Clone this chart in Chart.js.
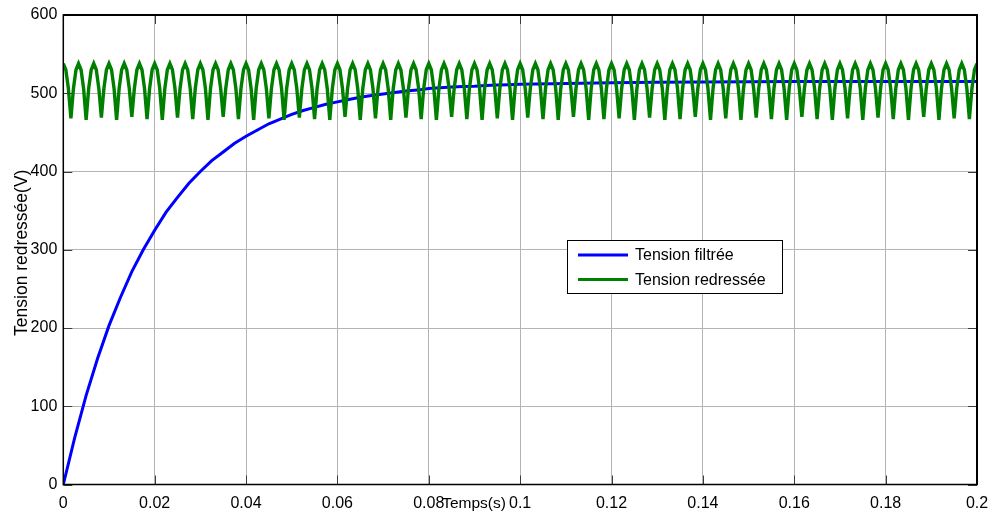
<!DOCTYPE html>
<html>
<head>
<meta charset="utf-8">
<script src="https://cdn.jsdelivr.net/npm/chart.js@4.4.0/dist/chart.umd.min.js"></script>
<style>
  html, body { margin: 0; padding: 0; background: #fff; }
  canvas { display: block; }
</style>
</head>
<body>
<canvas id="tensionChart" width="991" height="513"></canvas>
<script>
// axis ticks
var xTicks = [0, 0.02, 0.04, 0.06, 0.08, 0.1, 0.12, 0.14, 0.16, 0.18, 0.2];
var xTickLabels = ['0', '0.02', '0.04', '0.06', '0.08', '0.1', '0.12', '0.14', '0.16', '0.18', '0.2'];
var yTicks = [0, 100, 200, 300, 400, 500, 600];
var yTickLabels = ['0', '100', '200', '300', '400', '500', '600'];

var seriesNames = ['Tension filtrée', 'Tension redressée'];
var xTitle = 'Temps(s)';
var yTitle = 'Tension redressée(V)';

// filtered voltage (blue)
var filteredTime = [0, 0.0025, 0.005, 0.0075, 0.01, 0.0125, 0.015, 0.0175, 0.02, 0.0225,
    0.025, 0.0275, 0.03, 0.0325, 0.035, 0.0375, 0.04, 0.0425, 0.045, 0.0475,
    0.05, 0.0525, 0.055, 0.0575, 0.06, 0.0625, 0.065, 0.0675, 0.07, 0.0725,
    0.075, 0.0775, 0.08, 0.0825, 0.085, 0.0875, 0.09, 0.0925, 0.095, 0.0975,
    0.1, 0.11, 0.12, 0.13, 0.14, 0.16, 0.18, 0.2];
var filteredValue = [0, 60, 114, 161, 203, 239, 272, 300, 325, 348,
    367, 385, 400, 414, 425, 436, 445, 453, 461, 467,
    473, 478, 482, 486, 489, 492, 495, 497, 499, 501,
    503, 504, 506, 507, 508, 508.5, 509, 510, 510.5, 511,
    511.5, 512.5, 513.5, 514, 514.5, 515, 515, 515];

// rectified voltage (green), one sample every 1/1800 s
var rectifiedStep = 1 / 1800;
var rectifiedValue = [
    538, 530, 506, 468, 506, 530, 538, 530, 506, 466, 506, 530,
    538, 530, 506, 469, 506, 530, 538, 530, 506, 466, 506, 530,
    538, 530, 506, 470, 506, 530, 538, 530, 506, 467, 506, 530,
    538, 530, 506, 466, 506, 530, 538, 530, 506, 469, 506, 530,
    538, 530, 506, 467, 506, 530, 538, 530, 506, 466, 506, 530,
    538, 530, 506, 470, 506, 530, 538, 530, 506, 467, 506, 530,
    538, 530, 506, 466, 506, 530, 538, 530, 506, 468, 506, 530,
    538, 530, 506, 466, 506, 530, 538, 530, 506, 469, 506, 530,
    538, 530, 506, 467, 506, 530, 538, 530, 506, 466, 506, 530,
    538, 530, 506, 470, 506, 530, 538, 530, 506, 466, 506, 530,
    538, 530, 506, 468, 506, 530, 538, 530, 506, 466, 506, 530,
    538, 530, 506, 469, 506, 530, 538, 530, 506, 467, 506, 530,
    538, 530, 506, 466, 506, 530, 538, 530, 506, 470, 506, 530,
    538, 530, 506, 467, 506, 530, 538, 530, 506, 466, 506, 530,
    538, 530, 506, 468, 506, 530, 538, 530, 506, 466, 506, 530,
    538, 530, 506, 469, 506, 530, 538, 530, 506, 467, 506, 530,
    538, 530, 506, 466, 506, 530, 538, 530, 506, 470, 506, 530,
    538, 530, 506, 466, 506, 530, 538, 530, 506, 467, 506, 530,
    538, 530, 506, 468, 506, 530, 538, 530, 506, 466, 506, 530,
    538, 530, 506, 469, 506, 530, 538, 530, 506, 466, 506, 530,
    538, 530, 506, 467, 506, 530, 538, 530, 506, 470, 506, 530,
    538, 530, 506, 466, 506, 530, 538, 530, 506, 468, 506, 530,
    538, 530, 506, 466, 506, 530, 538, 530, 506, 469, 506, 530,
    538, 530, 506, 467, 506, 530, 538, 530, 506, 466, 506, 530,
    538, 530, 506, 470, 506, 530, 538, 530, 506, 467, 506, 530,
    538, 530, 506, 466, 506, 530, 538, 530, 506, 468, 506, 530,
    538, 530, 506, 466, 506, 530, 538, 530, 506, 469, 506, 530,
    538, 530, 506, 467, 506, 530, 538, 530, 506, 466, 506, 530,
    538, 530, 506, 470, 506, 530, 538, 530, 506, 466, 506, 530,
    538, 530, 506, 468, 506, 530, 538, 530, 506, 467, 506, 530,
    538];

var blue = '#0000ff';
var green = '#008000';
var font = '"Liberation Sans", Arial, Helvetica, sans-serif';

var filteredData = filteredTime.map(function (t, i) {
    return { x: t, y: filteredValue[i] };
});
var rectifiedData = rectifiedValue.map(function (v, i) {
    return { x: i * rectifiedStep, y: v };
});

// frame, inner tick marks, axis titles and boxed legend, MATLAB style
var matlabDecor = {
    id: 'matlabDecor',
    afterDraw: function (chart) {
        var ctx = chart.ctx;
        var a = chart.chartArea;
        var sx = chart.scales.x;
        var sy = chart.scales.y;
        ctx.save();

        // inner ticks
        ctx.strokeStyle = '#3c3c3c';
        ctx.lineWidth = 1;
        ctx.beginPath();
        xTicks.forEach(function (v) {
            var px = Math.round(sx.getPixelForValue(v)) + 0.5;
            ctx.moveTo(px, a.bottom); ctx.lineTo(px, a.bottom - 9);
            ctx.moveTo(px, a.top); ctx.lineTo(px, a.top + 9);
        });
        yTicks.forEach(function (v) {
            var py = Math.round(sy.getPixelForValue(v)) + 0.5;
            ctx.moveTo(a.left, py); ctx.lineTo(a.left + 9, py);
            ctx.moveTo(a.right, py); ctx.lineTo(a.right - 9, py);
        });
        ctx.stroke();

        // box
        ctx.strokeStyle = '#000';
        ctx.lineWidth = 1.5;
        ctx.strokeRect(a.left, a.top, a.right - a.left, a.bottom - a.top);
        ctx.lineWidth = 2;
        ctx.beginPath();
        ctx.moveTo(a.left, a.top); ctx.lineTo(a.right, a.top); ctx.lineTo(a.right, a.bottom);
        ctx.stroke();

        // axis titles
        ctx.fillStyle = '#000';
        ctx.font = '15.5px ' + font;
        ctx.textAlign = 'center';
        ctx.textBaseline = 'alphabetic';
        ctx.fillText(xTitle, 474, 508);

        ctx.save();
        ctx.translate(27, (a.top + a.bottom) / 2 + 3);
        ctx.rotate(-Math.PI / 2);
        ctx.font = '17.5px ' + font;
        ctx.fillText(yTitle, 0, 0);
        ctx.restore();

        // legend box
        var lx = 567, ly = 240, lw = 215, lh = 53;
        ctx.fillStyle = '#fff';
        ctx.fillRect(lx, ly, lw, lh);
        ctx.strokeStyle = '#000';
        ctx.lineWidth = 1;
        ctx.strokeRect(lx + 0.5, ly + 0.5, lw, lh);
        ctx.font = '16px ' + font;
        ctx.textAlign = 'left';
        ctx.textBaseline = 'middle';
        chart.data.datasets.forEach(function (ds, i) {
            var yy = ly + 15 + i * 24.5;
            ctx.strokeStyle = ds.borderColor;
            ctx.lineWidth = 3;
            ctx.beginPath();
            ctx.moveTo(578, yy); ctx.lineTo(628, yy);
            ctx.stroke();
            ctx.fillStyle = '#000';
            ctx.fillText(ds.label, 635, yy + 1);
        });

        ctx.restore();
    }
};

var ctx = document.getElementById('tensionChart').getContext('2d');

var myChart = new Chart(ctx, {
    type: 'line',
    data: {
        datasets: [{
            label: seriesNames[0],
            data: filteredData,
            borderColor: blue,
            backgroundColor: blue,
            borderWidth: 3,
            pointRadius: 0,
            tension: 0,
            order: 1
        }, {
            label: seriesNames[1],
            data: rectifiedData,
            borderColor: green,
            backgroundColor: green,
            borderWidth: 3.4,
            pointRadius: 0,
            tension: 0,
            order: 0
        }]
    },
    options: {
        responsive: false,
        animation: false,
        layout: {
            padding: { left: 0, right: 14, top: 15, bottom: 0 }
        },
        plugins: {
            legend: { display: false },
            tooltip: { enabled: false }
        },
        scales: {
            x: {
                type: 'linear',
                min: 0,
                max: 0.2,
                afterBuildTicks: function (s) {
                    s.ticks = xTicks.map(function (v) { return { value: v }; });
                },
                afterFit: function (s) {
                    s.height = 28.5;
                    s.paddingLeft = 0;
                    s.paddingRight = 0;
                },
                ticks: {
                    autoSkip: false,
                    maxRotation: 0,
                    padding: 9.5,
                    color: '#000',
                    font: { family: font, size: 16 },
                    callback: function (v) {
                        var i = xTicks.indexOf(v);
                        return i >= 0 ? xTickLabels[i] : '';
                    }
                },
                grid: { color: '#b4b4b4', lineWidth: 1, drawTicks: false },
                border: { display: false }
            },
            y: {
                type: 'linear',
                min: 0,
                max: 600,
                afterBuildTicks: function (s) {
                    s.ticks = yTicks.map(function (v) { return { value: v }; });
                },
                afterFit: function (s) {
                    s.width = 63.3;
                    s.paddingTop = 0;
                    s.paddingBottom = 0;
                },
                ticks: {
                    padding: 6,
                    color: '#000',
                    font: { family: font, size: 16 },
                    callback: function (v) {
                        var i = yTicks.indexOf(v);
                        return i >= 0 ? yTickLabels[i] : '';
                    }
                },
                grid: { color: '#b4b4b4', lineWidth: 1, drawTicks: false },
                border: { display: false }
            }
        }
    },
    plugins: [matlabDecor]
});
</script>
</body>
</html>
